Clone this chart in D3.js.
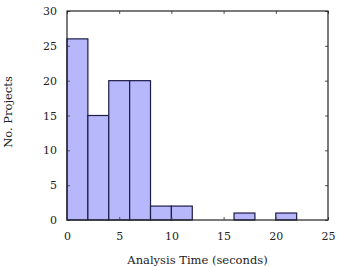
<!DOCTYPE html>
<html>
<head>
<meta charset="utf-8">
<script src="https://cdn.jsdelivr.net/npm/d3@7"></script>
<style>
  body { margin: 0; background: #fff; }
  text { font-family: "DejaVu Serif", "Liberation Serif", serif; }
</style>
</head>
<body>
<div id="plot"></div>
<script>
// histogram bins (seconds) and counts
const binStarts = [0, 2, 4, 6, 8, 10, 12, 14, 16, 18, 20];
const binWidth = 2;
const counts = [26, 15, 20, 20, 2, 2, 0, 0, 1, 0, 1];
const xTicks = [0, 5, 10, 15, 20, 25];
const yTicks = [0, 5, 10, 15, 20, 25, 30];

const margin = {top: 11, right: 12, bottom: 47, left: 67};
const width = 340 - margin.left - margin.right;
const height = 267 - margin.top - margin.bottom;

const svg = d3.select("#plot")
    .append("svg")
    .attr("width", 340)
    .attr("height", 267)
    .append("g")
    .attr("transform", `translate(${margin.left},${margin.top})`);

const x = d3.scaleLinear().domain([0, 25]).range([0, width]);
const y = d3.scaleLinear().domain([0, 30]).range([height, 0]);

// bars
svg.selectAll(".bar")
    .data(binStarts.map((s, i) => ({start: s, count: counts[i]})).filter(d => d.count > 0))
    .enter()
    .append("rect")
    .attr("class", "bar")
    .attr("x", d => x(d.start))
    .attr("width", d => x(d.start + binWidth) - x(d.start))
    .attr("y", d => y(d.count))
    .attr("height", d => height - y(d.count))
    .attr("fill", "#b7b7fb")
    .attr("stroke", "#1c1c48")
    .attr("stroke-width", 1.2);

// axes with inward ticks on all sides
function styleAxis(g) {
    g.select(".domain").remove();
    g.selectAll(".tick line").attr("stroke", "#555");
    g.selectAll("text").style("font-size", "11px").attr("fill", "#222");
}

svg.append("g")
    .attr("transform", `translate(0,${height})`)
    .call(d3.axisBottom(x).tickValues(xTicks).tickSizeInner(-3).tickSizeOuter(0).tickPadding(12))
    .call(styleAxis);

svg.append("g")
    .call(d3.axisLeft(y).tickValues(yTicks).tickSizeInner(-3).tickSizeOuter(0).tickPadding(10))
    .call(styleAxis);

svg.append("g")
    .call(d3.axisTop(x).tickValues(xTicks).tickSizeInner(-3).tickSizeOuter(0).tickFormat(""))
    .call(styleAxis);

svg.append("g")
    .attr("transform", `translate(${width},0)`)
    .call(d3.axisRight(y).tickValues(yTicks).tickSizeInner(-3).tickSizeOuter(0).tickFormat(""))
    .call(styleAxis);

// frame
svg.append("rect")
    .attr("width", width)
    .attr("height", height)
    .attr("fill", "none")
    .attr("stroke", "#222")
    .attr("stroke-width", 1.2);

// axis labels
svg.append("text")
    .attr("text-anchor", "middle")
    .attr("x", width / 2)
    .attr("y", height + 44)
    .style("font-size", "11.5px")
    .attr("fill", "#222")
    .text("Analysis Time (seconds)");

svg.append("text")
    .attr("text-anchor", "middle")
    .attr("transform", "rotate(-90)")
    .attr("x", -(112 - margin.top))
    .attr("y", -55)
    .style("font-size", "11.5px")
    .attr("fill", "#222")
    .text("No. Projects");
</script>
</body>
</html>
